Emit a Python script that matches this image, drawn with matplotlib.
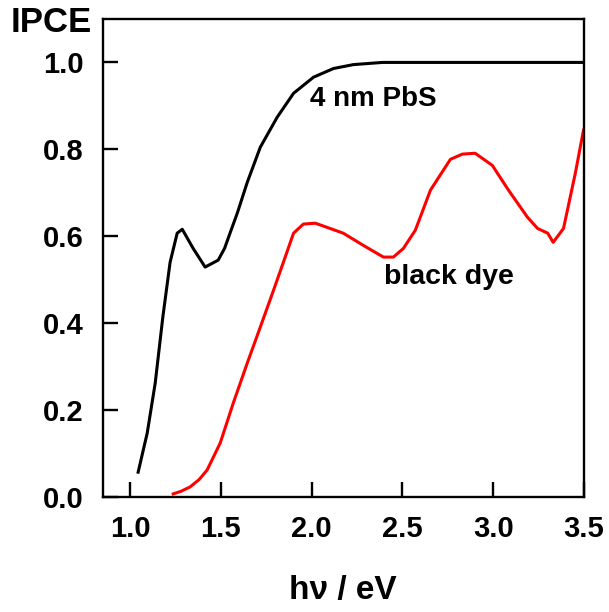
import numpy as np
import matplotlib
matplotlib.use("Agg")
import matplotlib.pyplot as plt

# PbS quantum dots (4 nm) - IPCE vs photon energy
pbs_ev = [1.044, 1.094, 1.138, 1.18, 1.22, 1.259, 1.287, 1.347, 1.413, 1.485, 1.52,
          1.55, 1.59, 1.645, 1.717, 1.81, 1.90, 2.01, 2.12, 2.23, 2.39, 2.7, 3.0, 3.5]
pbs_ipce = [0.057, 0.147, 0.262, 0.414, 0.54, 0.607, 0.616, 0.572, 0.529, 0.545, 0.572,
            0.607, 0.653, 0.724, 0.805, 0.874, 0.929, 0.966, 0.986, 0.995, 1.0, 1.0, 1.0, 1.0]

# black dye
dye_ev = [1.237, 1.28, 1.33, 1.38, 1.424, 1.496, 1.568, 1.645, 1.717, 1.79, 1.854, 1.90,
          1.954, 2.02, 2.174, 2.284, 2.395, 2.45, 2.505, 2.571, 2.654, 2.764, 2.83, 2.90,
          2.995, 3.084, 3.188, 3.244, 3.30, 3.33, 3.387, 3.453, 3.497]
dye_ipce = [0.007, 0.013, 0.023, 0.04, 0.062, 0.124, 0.216, 0.308, 0.391, 0.476, 0.552,
            0.607, 0.628, 0.63, 0.607, 0.579, 0.552, 0.552, 0.572, 0.614, 0.706, 0.777,
            0.789, 0.791, 0.763, 0.706, 0.644, 0.618, 0.607, 0.586, 0.618, 0.747, 0.844]

xticks = [1.0, 1.5, 2.0, 2.5, 3.0, 3.5]
yticks = [0.0, 0.2, 0.4, 0.6, 0.8, 1.0]

plt.rcParams['font.family'] = ['Liberation Sans', 'DejaVu Sans']
plt.rcParams['font.weight'] = 'bold'

fig = plt.figure(figsize=(6.09, 6.12), dpi=100)
ax = fig.add_axes([0.169, 0.188, 0.79, 0.781])

ax.plot(pbs_ev, pbs_ipce, color='black', lw=2.2, solid_joinstyle='round')
ax.plot(dye_ev, dye_ipce, color='red', lw=2.2, solid_joinstyle='round')

ax.set_xlim(0.85, 3.5)
ax.set_ylim(0, 1.1)
ax.set_xticks(xticks)
ax.set_yticks(yticks)
ax.set_xticklabels([f"{t:.1f}" for t in xticks])
ax.set_yticklabels([f"{t:.1f}" for t in yticks])

for s in ax.spines.values():
    s.set_linewidth(1.7)
ax.tick_params(direction='in', length=11, width=1.7, labelsize=21)
ax.tick_params(axis='y', pad=14)
ax.tick_params(axis='x', pad=13)

ax.text(1.99, 0.915, "4 nm PbS", fontsize=20, fontweight='bold', va='center', ha='left')
ax.text(2.40, 0.506, "black dye", fontsize=20.5, fontweight='bold', va='center', ha='left')

fig.text(51 / 609, 1 - 22 / 612, "IPCE", fontsize=25, fontweight='bold', ha='center', va='center')
fig.text(343 / 609, 1 - 590 / 612, "hν / eV", fontsize=24, fontweight='bold', ha='center', va='center')

fig.savefig("out.png", dpi=100)
